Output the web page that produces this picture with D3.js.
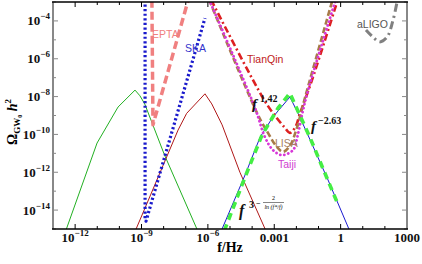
<!DOCTYPE html>
<html><head><meta charset="utf-8">
<script src="https://cdn.jsdelivr.net/npm/d3@7"></script>
<style>body{margin:0;background:#fff} svg{display:block}</style>
</head><body><svg id="c" width="422" height="264"></svg>
<script>
// ---- data: [frequency in Hz, Omega h^2] ----
const xTickValues = [1e-12, 1e-9, 1e-6, 1e-3, 1, 1e3];
const xTickBase = ["10", "10", "10", "0.001", "1", "1000"];
const xTickExp = ["−12", "−9", "−6", "", "", ""];
const yTickValues = [1e-14, 1e-12, 1e-10, 1e-8, 1e-6, 1e-4];
const yTickExp = ["−14", "−12", "−10", "−8", "−6", "−4"];

const spectrumGreen = [[3.5e-13,6.3e-16],[9.8e-12,3.5e-11],[8.7e-11,2.8e-9],[5.1e-10,2.2e-8],[8.5e-10,1.1e-8],[1.4e-9,4.1e-9],[1.1e-8,8.1e-12],[3.8e-7,6.3e-16]];
const spectrumRed = [[4.8e-10,6.3e-16],[8.5e-10,3.0e-15],[4.5e-8,1.7e-10],[1.1e-7,1.3e-9],[7.4e-7,1.4e-8],[1.5e-6,4.1e-9],[4.4e-6,3.2e-10],[2.8e-5,1.0e-12],[4.6e-4,6.3e-16]];
const spectrumBlue = [[3.7e-6,6.3e-16],[4.8e-5,7.2e-13],[2.3e-4,7.2e-11],[8.7e-4,8.3e-10],[5.1e-3,9.5e-9],[1.2e-2,1.3e-9],[4.2e-2,5.1e-11],[0.27,3.9e-13],[2.8,6.3e-16]];
const fitBrokenPL = [[5.5e-6,7.9e-16],[4.8e-5,5.6e-13],[2.8e-4,9.3e-11],[1.5e-3,2.5e-9],[5.1e-3,1.5e-8],[1.4e-2,1.1e-9],[4.2e-2,6.5e-11],[0.76,2.0e-14]];

const ska = [[1.45e-9,1.3e-3],[1.45e-9,3.0e-15],[1.6e-9,2.6e-15],[7.4e-7,1.4e-4]];
const epta = [[2.95e-9,1.3e-3],[3.3e-9,3.2e-10],[1.3e-7,1.3e-3]];
const tianqin = [[1.4e-6,1.3e-3],[3.5e-4,6.6e-9],[1.2e-3,8.3e-10],[2.8e-3,2.5e-10],[5.1e-3,1.2e-10],[9.5e-3,2.8e-10],[1.4e-2,1.1e-9],[5.1e-2,7.6e-8],[0.74,1.3e-3]];
const lisa = [[1.15e-6,1.3e-3],[1.7e-4,1.3e-9],[5.2e-4,1.2e-10],[1.3e-3,2.2e-11],[2.5e-3,1.2e-11],[5.1e-3,2.5e-11],[9.5e-3,1.5e-10],[2.5e-2,9.5e-9],[0.43,1.3e-3]];
const taiji = [[1.15e-6,1.3e-3],[1.35e-4,2.5e-9],[3.8e-4,7.2e-11],[8.7e-4,1.5e-11],[2.2e-3,8.1e-12],[7.1e-3,1.5e-11],[1.1e-2,7.2e-11],[1.8e-2,1.1e-9],[3.4e-2,2.2e-8],[0.6,1.3e-3]];
const aligo = [[14,3.3e-5],[29,1.4e-5],[60,7.8e-6],[126,1.4e-5],[234,1.1e-4],[370,1.3e-3]];

const detectorNames = ["EPTA","SKA","TianQin","LISA","Taiji","aLIGO"];

// ---- layout ----
const L = 53, R = 407, T = 2, B = 229;
const svg = d3.select("#c");
const x = d3.scaleLog().domain([1e-13, 1e3]).range([L, R]);
const y = d3.scaleLog().domain([1e-15, 1e-3]).range([B, T]);

svg.append("defs").append("clipPath").attr("id","clip")
  .append("rect").attr("x",L).attr("y",T).attr("width",R-L).attr("height",B-T);

const plot = svg.append("g").attr("clip-path","url(#clip)");
const lin = d3.line().x(d=>x(d[0])).y(d=>y(d[1]));
const smooth = d3.line().x(d=>x(d[0])).y(d=>y(d[1])).curve(d3.curveCatmullRom.alpha(0.5));

function path(data, gen, color, w, dash, cap) {
  plot.append("path").datum(data).attr("d", gen)
    .attr("fill","none").attr("stroke",color).attr("stroke-width",w)
    .attr("stroke-dasharray", dash || null)
    .attr("stroke-linecap", cap || "butt").attr("stroke-linejoin","round");
}

path(spectrumGreen, lin, "#22b022", 1);
path(spectrumRed, lin, "#b01818", 1);
path(spectrumBlue, lin, "#1a1ad0", 1);

path(epta, lin, "#f08080", 3.5, "8,4");
path(ska, lin, "#1a1acc", 3.2, "2.2,2.4");
path(tianqin, smooth, "#dd2020", 2.6, "7,3,2,3");
path(lisa, smooth, "#a87a48", 2.6, "6,3");
path(taiji, smooth, "#d838d8", 2.8, "0.1,4", "round");
path(aligo, smooth, "#808080", 3, "8,4,2,4");
path(fitBrokenPL, lin, "#44ee44", 3.6, "7,5");

// ---- frame & ticks ----
const fr = svg.append("g");
const decX = d3.range(-13, 4).map(e => Math.pow(10, e));
const decY = d3.range(-15, -2).map(e => Math.pow(10, e));
decX.forEach(v => {
  const major = xTickValues.some(t => Math.abs(Math.log10(t) - Math.log10(v)) < 1e-6);
  const len = major ? 5 : 3;
  fr.append("line").attr("x1",x(v)).attr("x2",x(v)).attr("y1",B).attr("y2",B-len).attr("stroke","#000").attr("stroke-width",1);
  fr.append("line").attr("x1",x(v)).attr("x2",x(v)).attr("y1",T).attr("y2",T+len).attr("stroke","#000").attr("stroke-width",1);
});
decY.forEach(v => {
  const major = yTickValues.some(t => Math.abs(Math.log10(t) - Math.log10(v)) < 1e-6);
  const len = major ? 5 : 3;
  fr.append("line").attr("x1",L).attr("x2",L+len).attr("y1",y(v)).attr("y2",y(v)).attr("stroke","#888").attr("stroke-width",1);
  fr.append("line").attr("x1",R).attr("x2",R-len).attr("y1",y(v)).attr("y2",y(v)).attr("stroke","#888").attr("stroke-width",1);
});
fr.append("line").attr("x1",L).attr("x2",L).attr("y1",T).attr("y2",B).attr("stroke","#888").attr("stroke-width",2);
fr.append("line").attr("x1",R).attr("x2",R).attr("y1",T).attr("y2",B).attr("stroke","#888").attr("stroke-width",2);
fr.append("line").attr("x1",L-1).attr("x2",R+1).attr("y1",T).attr("y2",T).attr("stroke","#000").attr("stroke-width",1.5);
fr.append("line").attr("x1",L-1).attr("x2",R+1).attr("y1",B).attr("y2",B).attr("stroke","#000").attr("stroke-width",1.6);

const serif = "'Liberation Serif','DejaVu Serif',serif";
// x tick labels
xTickValues.forEach((v,i) => {
  const t = svg.append("text").attr("x", x(v)).attr("y", 242).attr("text-anchor","middle")
    .attr("font-family", serif).attr("font-weight","bold").attr("font-size",13).attr("fill","#111");
  t.append("tspan").text(xTickBase[i]);
  if (xTickExp[i]) t.append("tspan").attr("font-size",9).attr("dy",-6).text(xTickExp[i]);
});
// y tick labels
yTickValues.forEach((v,i) => {
  const t = svg.append("text").attr("x", 50).attr("y", y(v)+4.5).attr("text-anchor","end")
    .attr("font-family", serif).attr("font-weight","bold").attr("font-size",13).attr("fill","#111");
  t.append("tspan").text("10");
  t.append("tspan").attr("font-size",9).attr("dy",-6).text(yTickExp[i]);
});

// axis titles
svg.append("text").attr("x", 230).attr("y", 252).attr("text-anchor","middle")
  .attr("font-family", serif).attr("font-weight","bold").attr("font-size",14).text("f/Hz");
const yl = svg.append("text").attr("transform","translate(17,122) rotate(-90)").attr("text-anchor","middle")
  .attr("font-family", serif).attr("font-weight","bold").attr("font-size",14);
yl.append("tspan").text("Ω");
yl.append("tspan").attr("font-size",9).attr("dy",3).text("GW");
yl.append("tspan").attr("font-size",6).attr("dy",2).text("0");
yl.append("tspan").attr("dy",-5).attr("font-style","italic").text(" h");
yl.append("tspan").attr("font-size",9).attr("dy",-6).text("2");

// detector labels
const sans = "'Liberation Sans',Arial,sans-serif";
const labelPos = [[152,38,"#f08080"],[185,52,"#3333cc"],[247,63,"#c02020"],[275,147,"#a88060"],[278,168,"#d040d0"],[357,28,"#555"]];
detectorNames.forEach((n,i) => {
  svg.append("text").attr("x",labelPos[i][0]).attr("y",labelPos[i][1]).attr("font-family",sans)
    .attr("font-size",10.5).attr("fill",labelPos[i][2]).text(n);
});

// power-law annotations
function mtext(xp, yp, size, txt, italic) {
  return svg.append("text").attr("x",xp).attr("y",yp).attr("font-family",serif).attr("font-weight","bold")
    .attr("font-size",size).attr("font-style", italic ? "italic" : null).attr("fill","#111").text(txt);
}
mtext(252,109,15,"f",true); mtext(260,102,10,"1.42");
mtext(311,131,15,"f",true); mtext(318,124,10,"−2.63");
mtext(239,216,16,"f",true); mtext(249,208,10,"3");
mtext(256,206,8,"−");
svg.append("line").attr("x1",263).attr("x2",284).attr("y1",202.5).attr("y2",202.5).attr("stroke","#333").attr("stroke-width",0.6);
svg.append("text").attr("x",273.5).attr("y",200).attr("text-anchor","middle").attr("font-family",serif).attr("font-size",6).text("2");
svg.append("text").attr("x",273.5).attr("y",209).attr("text-anchor","middle").attr("font-family",serif).attr("font-size",6).attr("font-style","italic").text("ln (f*/f)");
</script></body></html>
